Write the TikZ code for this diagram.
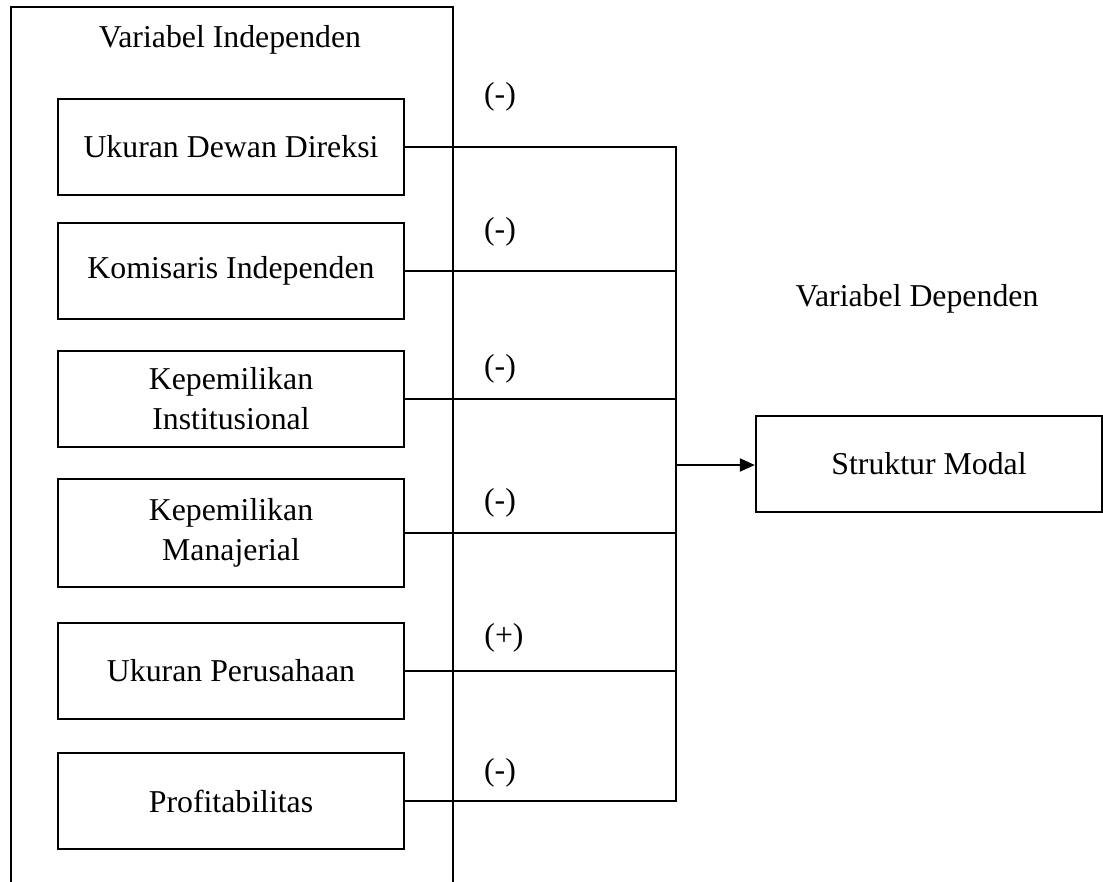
\documentclass[tikz,border=0pt]{standalone}
\usepackage{fontspec}
\setmainfont{Liberation Serif}
\usetikzlibrary{arrows.meta}
\begin{document}
\begin{tikzpicture}[x=1pt,y=-1pt,
  every node/.style={font=\fontsize{31.8}{40}\selectfont},
  box/.style={draw, line width=2.4pt, minimum width=346pt, minimum height=96pt, align=center, inner sep=0pt},
  conn/.style={line width=1.3pt},
  sign/.style={inner sep=0pt},
  title/.style={inner sep=0pt, anchor=base}]
\useasboundingbox (0,0) rectangle (1103,882);
% outer container (bottom edge lies below the picture)
\node[draw, line width=2.4pt, minimum width=442pt, minimum height=920pt, anchor=north west, inner sep=0pt] (outer) at (10,6) {};
\node[title] (tind) at (230,48) {Variabel Independen};
\node[title] (tdep) at (917,307) {Variabel Dependen};

\node[box] (b1) at (231,147) {Ukuran Dewan Direksi};
\node[box] (b2) at (231,271) {Komisaris Independen};
\node[box] (b3) at (231,399) {Kepemilikan\\Institusional};
\node[box, minimum height=108pt] (b4) at (231,533) {Kepemilikan\\Manajerial};
\node[box] (b5) at (231,671) {Ukuran Perusahaan};
\node[box] (b6) at (231,801) {Profitabilitas};

\node[box] (sm) at (929,464) {Struktur Modal};

\coordinate (vtop) at (676,147);
\coordinate (vbot) at (676,801);
\coordinate (vmid) at (676,465);
\draw[conn] (vtop) -- (vbot);
\foreach \b in {b1,b2,b3,b4,b5,b6}{
  \draw[conn] (\b.east) -- ([xshift=1pt]\b.east -| vtop);
}
\draw[line width=2.2pt, -{Triangle[length=15pt,width=13pt]}] (vmid) -- (vmid -| sm.west);

\node[sign] (s1) at (500,97) {(-)};
\node[sign] (s2) at (500,232) {(-)};
\node[sign] (s3) at (500,369) {(-)};
\node[sign] (s4) at (500,503) {(-)};
\node[sign] (s5) at (504,638) {(+)};
\node[sign] (s6) at (500,773) {(-)};
\end{tikzpicture}
\end{document}
